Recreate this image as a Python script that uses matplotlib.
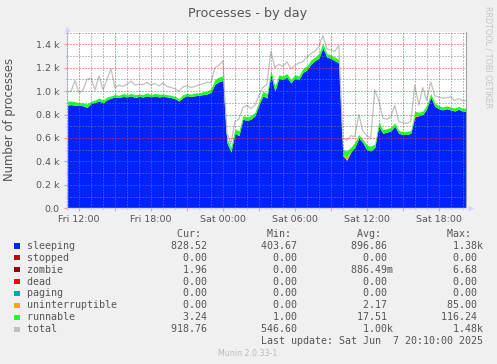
import numpy as np
import matplotlib
matplotlib.use("Agg")
import matplotlib.pyplot as plt
from matplotlib.patches import Rectangle
from matplotlib.ticker import FixedLocator, MultipleLocator

# ---- data (20-minute samples, first sample Fri 11:00) ----
sleeping = [880, 885, 880, 880, 875, 860, 895, 905, 915, 900,
            925, 940, 950, 945, 955, 950, 960, 945, 955, 950,
            960, 950, 960, 950, 955, 950, 945, 935, 915, 945,
            960, 955, 960, 965, 970, 975, 990, 1060, 1080, 1090,
            560, 480, 640, 620, 760, 750, 760, 790, 880, 960,
            940, 1140, 1000, 1110, 1100, 1120, 1070, 1110, 1100, 1160,
            1180, 1230, 1260, 1280, 1370, 1290, 1280, 1260, 1240, 450,
            410, 480, 520, 600, 560, 500, 490, 520, 700, 640,
            650, 660, 700, 640, 630, 630, 640, 780, 790, 800,
            850, 950, 870, 850, 840, 850, 840, 830, 845, 828, 830]
uninterruptible = [0, 0, 0, 0, 0, 0, 0, 0, 0, 0,
                   0, 0, 0, 0, 0, 0, 0, 0, 0, 0,
                   0, 0, 0, 0, 0, 0, 0, 0, 0, 0,
                   0, 0, 0, 0, 0, 0, 0, 0, 0, 0,
                   0, 0, 0, 0, 0, 0, 0, 0, 0, 0,
                   0, 0, 0, 0, 0, 0, 0, 0, 0, 0,
                   0, 0, 0, 0, 0, 0, 0, 0, 0, 0,
                   30, 0, 0, 0, 0, 0, 0, 0, 0, 0,
                   0, 0, 0, 0, 0, 0, 0, 20, 0, 0,
                   0, 0, 0, 0, 0, 0, 0, 0, 0, 0, 0]
runnable = [35, 30, 30, 20, 25, 30, 20, 20, 25, 25,
            25, 20, 20, 20, 25, 20, 20, 25, 20, 20,
            25, 20, 20, 25, 20, 20, 20, 20, 20, 25,
            20, 20, 25, 20, 25, 25, 30, 40, 40, 40,
            40, 40, 40, 40, 30, 30, 30, 30, 30, 40,
            40, 40, 40, 30, 30, 30, 30, 30, 30, 35,
            35, 35, 30, 40, 40, 30, 30, 30, 30, 50,
            50, 40, 40, 30, 30, 40, 40, 30, 40, 30,
            30, 30, 30, 25, 25, 25, 25, 30, 30, 30,
            30, 30, 30, 25, 25, 25, 25, 25, 25, 25, 25]
total = [990, 1000, 1090, 985, 1010, 1100, 1110, 1010, 1130, 1010,
         1100, 1190, 1030, 1050, 1040, 1060, 1085, 1050, 1060, 1055,
         1075, 1050, 1065, 1045, 1070, 1040, 1030, 1020, 1000, 1035,
         1045, 1030, 1040, 1055, 1060, 1075, 1070, 1200, 1220, 1260,
         640, 550, 740, 760, 860, 880, 850, 880, 960, 1030,
         1060, 1340, 1200, 1230, 1210, 1250, 1190, 1220, 1240, 1250,
         1290, 1320, 1340, 1380, 1475, 1360, 1350, 1340, 1390, 600,
         580, 620, 610, 800, 660, 620, 600, 1010, 920, 770,
         760, 780, 880, 740, 730, 725, 740, 1050, 880, 1030,
         920, 1080, 960, 950, 940, 945, 950, 920, 935, 918, 920]

series_names = ["sleeping", "stopped", "zombie", "dead", "paging",
                "uninterruptible", "runnable", "total"]
series_colors = ["#0022ff", "#cc0000", "#990000", "#ff0000", "#00aaaa",
                 "#ffa500", "#22ff22", "#c0c0c0"]
cur_vals = ["828.52", "0.00", "1.96", "0.00", "0.00", "0.00", "3.24", "918.76"]
min_vals = ["403.67", "0.00", "0.00", "0.00", "0.00", "0.00", "1.00", "546.60"]
avg_vals = ["896.86", "0.00", "886.49m", "0.00", "0.00", "2.17", "17.51", "1.00k"]
max_vals = ["1.38k", "0.00", "6.68", "0.00", "0.00", "85.00", "116.24", "1.48k"]

xtick_hours = [12, 18, 24, 30, 36, 42]
xtick_labels = ["Fri 12:00", "Fri 18:00", "Sat 00:00", "Sat 06:00", "Sat 12:00", "Sat 18:00"]
ytick_vals = [0, 200, 400, 600, 800, 1000, 1200, 1400]
ytick_labels = ["0.0", "0.2 k", "0.4 k", "0.6 k", "0.8 k", "1.0 k", "1.2 k", "1.4 k"]

W, H = 497, 364
FONT_C = "#555555"

fig = plt.figure(figsize=(W / 100, H / 100), dpi=100, facecolor="#F0F0F0")
ax = fig.add_axes([66.7 / W, 1 - 208.3 / H, 399.6 / W, 176 / H])
ax.set_facecolor("white")

hours = 11 + np.arange(len(sleeping)) / 3.0
s = np.array(sleeping, float)
u = s + np.array(uninterruptible, float)
r = u + np.array(runnable, float)

ax.fill_between(hours, 0, s, color=series_colors[0], lw=0, zorder=1)
ax.fill_between(hours, s, u, color=series_colors[5], lw=0, zorder=1)
ax.fill_between(hours, u, r, color=series_colors[6], lw=0, zorder=1)
ax.plot(hours, total, color=series_colors[7], lw=0.9, zorder=1.5)

ax.set_xlim(10.97, 44.3)
ax.set_ylim(0, 1502)

# grid
major_x = np.arange(12, 45, 3)
ax.xaxis.set_major_locator(FixedLocator(major_x))
ax.set_xticklabels([xtick_labels[xtick_hours.index(h)] if h in xtick_hours else ""
                    for h in major_x])
ax.xaxis.set_minor_locator(MultipleLocator(1))
ax.set_yticks(ytick_vals)
ax.set_yticklabels(ytick_labels)
ax.yaxis.set_minor_locator(MultipleLocator(100))
ax.set_axisbelow(False)
ax.grid(which="major", color=(1.0, 0.2, 0.2, 0.28), lw=0.72, ls=(0, (1, 2)))
ax.grid(which="minor", color=(0.5, 0.5, 0.5, 0.30), lw=0.72, ls=(0, (1, 2)))

ax.tick_params(which="major", length=2, color="#ff9999", labelsize=6.8,
               labelcolor=FONT_C, pad=2.5)
ax.tick_params(which="minor", length=1.5, color="#cccccc")
ax.tick_params(axis="y", which="major", pad=3.2)

for side in ["left", "bottom"]:
    ax.spines[side].set_color("#CFD6F8")
    ax.spines[side].set_linewidth(1)
ax.spines["top"].set_visible(False)
ax.spines["right"].set_color("#a0a0a0")
ax.spines["right"].set_linewidth(0.8)

# arrows
ax.plot([0], [1.02], marker="^", ms=4, color="#CFD6F8", transform=ax.transAxes,
        clip_on=False, mec="none")
ax.plot([0, 0], [1.0, 1.02], color="#CFD6F8", lw=1, transform=ax.transAxes, clip_on=False)
ax.plot([1.012], [0], marker=">", ms=4, color="#CFD6F8", transform=ax.transAxes,
        clip_on=False, mec="none")

# texts
fig.text(248 / W, 1 - 14 / H, "Processes - by day", ha="center", va="center",
         fontsize=9.2, color=FONT_C)
fig.text(10 / W, 1 - 120 / H, "Number of processes", rotation=90, ha="center",
         va="center", fontsize=8.4, color=FONT_C)
fig.text(488 / W, 1 - 57 / H, "RRDTOOL / TOBI OETIKER", rotation=-90, ha="center",
         va="center", fontsize=5.8, color="#c4c4c4")
fig.text(248 / W, 1 - 353 / H, "Munin 2.0.33-1", ha="center", va="center",
         fontsize=5.7, color="#bbbbbb")


def fmt(v):
    if v[-1] in "km":
        return v[:-1].rjust(6) + v[-1]
    return v.rjust(6) + " "


mono = dict(family="DejaVu Sans Mono", fontsize=7.18, color=FONT_C, va="center", ha="left")
header = " " * 25 + "Cur:" + " " * 11 + "Min:" + " " * 11 + "Avg:" + " " * 11 + "Max:"
fig.text(27 / W, 1 - 234 / H, header, **mono)
row_y0 = 245.7
for k, name in enumerate(series_names):
    y = row_y0 + 11.95 * k
    line = (name.ljust(24) + fmt(cur_vals[k]) + " " * 8 + fmt(min_vals[k]) + " " * 8
            + fmt(avg_vals[k]) + " " * 8 + fmt(max_vals[k]))
    fig.text(27 / W, 1 - y / H, line, **mono)
    fig.add_artist(Rectangle((14 / W, 1 - (y + 2.8) / H), 5.6 / W, 5.6 / H,
                             transform=fig.transFigure, facecolor=series_colors[k],
                             edgecolor="none"))
fig.text(27 / W, 1 - 340.8 / H, " " * 39 + "Last update: Sat Jun  7 20:10:00 2025", **mono)

fig.savefig("out.png", dpi=100, facecolor=fig.get_facecolor())
